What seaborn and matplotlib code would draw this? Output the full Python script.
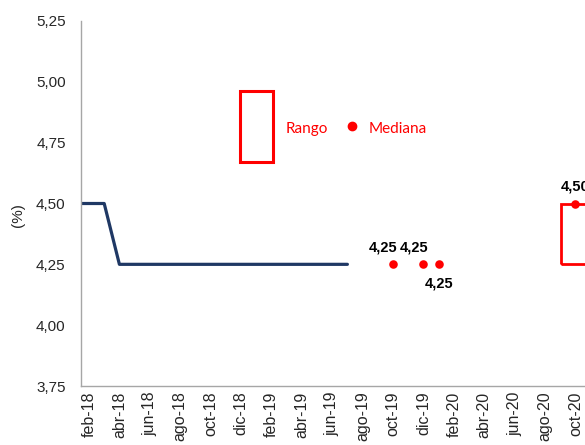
import matplotlib
matplotlib.use("Agg")
import matplotlib.pyplot as plt
import seaborn as sns
import pandas as pd
from matplotlib.patches import Rectangle
from matplotlib.lines import Line2D

# ---- data ----
months = ['ene-18', 'feb-18', 'mar-18', 'abr-18', 'may-18', 'jun-18', 'jul-18', 'ago-18',
          'sep-18', 'oct-18', 'nov-18', 'dic-18', 'ene-19', 'feb-19', 'mar-19', 'abr-19',
          'may-19', 'jun-19', 'jul-19', 'ago-19', 'sep-19', 'oct-19', 'nov-19', 'dic-19',
          'ene-20', 'feb-20', 'mar-20', 'abr-20', 'may-20', 'jun-20', 'jul-20', 'ago-20',
          'sep-20', 'oct-20', 'nov-20']
line_months = months[:19]  # ene-18 .. jul-19
line_values = [4.50, 4.50, 4.50, 4.25, 4.25, 4.25, 4.25, 4.25, 4.25, 4.25,
               4.25, 4.25, 4.25, 4.25, 4.25, 4.25, 4.25, 4.25, 4.25]
median_months = ['oct-19', 'dic-19', 'ene-20']
median_values = [4.25, 4.25, 4.25]
median_labels = ['4,25', '4,25', '4,25']
range_month = 'oct-20'
range_low = 4.25
range_high = 4.50
range_median = 4.50
tick_months = ['feb-18', 'abr-18', 'jun-18', 'ago-18', 'oct-18', 'dic-18', 'feb-19', 'abr-19',
               'jun-19', 'ago-19', 'oct-19', 'dic-19', 'feb-20', 'abr-20', 'jun-20', 'ago-20',
               'oct-20']
y_ticks = [3.75, 4.00, 4.25, 4.50, 4.75, 5.00, 5.25]

# month -> numeric position (feb-18 = 0)
pos = {m: i - 1 for i, m in enumerate(months)}

sns.set_style("white")
plt.rcParams['font.family'] = ['Liberation Sans', 'DejaVu Sans']

fig = plt.figure(figsize=(5.85, 4.45), dpi=100)
ax = fig.add_axes([81 / 585, 1 - 386 / 445, 1 - 81 / 585, (386 - 21) / 445])

red = '#FF0000'
navy = '#1F3864'

df_line = pd.DataFrame({'x': [pos[m] for m in line_months], 'y': line_values})
sns.lineplot(data=df_line, x='x', y='y', ax=ax, color=navy, linewidth=2.3, clip_on=True)

# range box
ax.bar([pos[range_month]], [range_high - range_low], bottom=[range_low], width=1.85,
       facecolor='none', edgecolor=red, linewidth=2.0, zorder=3)

df_med = pd.DataFrame({'x': [pos[m] for m in median_months] + [pos[range_month]],
                       'y': median_values + [range_median]})
sns.scatterplot(data=df_med, x='x', y='y', ax=ax, color=red, s=38, edgecolor=red,
                linewidth=0, zorder=4)

# data labels
offsets = [12, 12, -14]
for m, v, lab, off in zip(median_months, median_values, median_labels, offsets):
    ax.annotate(lab, (pos[m], v), xytext=(-7 if off > 0 else 0, off), textcoords='offset points',
                ha='center', va='center', fontsize=10.5, fontweight='bold', color='black')
ax.annotate('4,50', (pos[range_month], range_median), xytext=(0, 12), textcoords='offset points',
            ha='center', va='center', fontsize=10.5, fontweight='bold', color='black',
            annotation_clip=False)

ax.set_xlim((81 - 89) / 15.2, (585 - 89) / 15.2)
ax.set_ylim(3.75, 5.25)
ax.set_xticks([pos[m] for m in tick_months])
ax.set_xticklabels(tick_months, rotation=90, fontsize=11.5)
ax.set_yticks(y_ticks)
ax.set_yticklabels([f"{v:.2f}".replace('.', ',') for v in y_ticks], fontsize=11)
ax.tick_params(axis='both', length=0)
ax.tick_params(axis='y', pad=11)
ax.tick_params(axis='x', pad=4)
ax.set_xlabel('')
ax.set_ylabel('(%)', fontsize=11)
ax.yaxis.set_label_coords((25 - 81) / 504, (386 - 215) / 365)

for s in ['top', 'right']:
    ax.spines[s].set_visible(False)
for s in ['left', 'bottom']:
    ax.spines[s].set_color('#A6A6A6')
    ax.spines[s].set_linewidth(1.0)

# legend (manual)
ax.add_patch(Rectangle(((240 - 81) / 504, (386 - 162) / 365), 33 / 504, 71 / 365,
                       transform=ax.transAxes, facecolor='none', edgecolor=red,
                       linewidth=2.2, clip_on=False))
leg_font = ['Lato', 'DejaVu Sans']
ax.text((286 - 81) / 504, (386 - 129) / 365, 'Rango', transform=ax.transAxes,
        ha='left', va='center', fontsize=11, color=red, family=leg_font)
ax.add_line(Line2D([(352 - 81) / 504], [(386 - 126) / 365], transform=ax.transAxes,
                   marker='o', markersize=6, color=red, linestyle='none'))
ax.text((369 - 81) / 504, (386 - 129) / 365, 'Mediana', transform=ax.transAxes,
        ha='left', va='center', fontsize=11, color=red, family=leg_font)

fig.savefig('out.png', dpi=100)
